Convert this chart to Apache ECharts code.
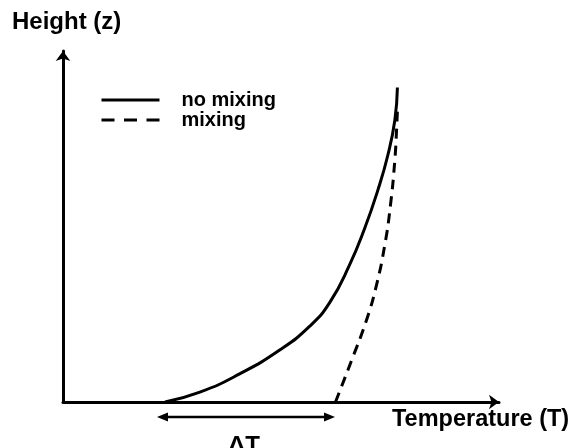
<!DOCTYPE html>
<html>
<head>
<meta charset="utf-8">
<script src="https://cdn.jsdelivr.net/npm/echarts@6/dist/echarts.min.js"></script>
<style>
html,body{margin:0;padding:0;background:#fff;}
#c{width:571px;height:448px;}
</style>
</head>
<body>
<div id="c"></div>
<script>
// Temperature (x, arbitrary units) vs Height (z, arbitrary units)
const seriesNames = ['no mixing', 'mixing'];
const noMixingT = [23.4, 31.4, 40.5, 49.7, 56.6, 61.2, 65.7, 69.2, 72.2, 74.5, 76.1, 76.7];
const noMixingZ = [0, 2.8, 8.0, 14.8, 21.6, 28.4, 39.0, 49.5, 60.3, 70.3, 80.2, 89.6];
const mixingT = [62.5, 66.2, 69.6, 71.9, 73.8, 75.1, 76.1, 76.5, 76.7];
const mixingZ = [0, 11.9, 23.3, 33.3, 44.7, 56.0, 68.8, 77.4, 83.1];
const xAxisName = 'Temperature (T)';
const yAxisName = 'Height (z)';
const deltaLabel = 'ΔT';

const pair = (xs, ys) => xs.map((x, i) => [x, ys[i]]);
const FONT = '"Liberation Sans", Arial, sans-serif';

const chart = echarts.init(document.getElementById('c'), null, {renderer: 'canvas'});
const axisCommon = {
  type: 'value', min: 0, max: 100,
  axisLabel: {show: false}, axisTick: {show: false}, splitLine: {show: false},
  axisLine: {show: true, symbol: ['none', 'arrow'], symbolSize: [11, 10],
             lineStyle: {color: '#000', width: 3}}
};
chart.setOption({
  animation: false,
  backgroundColor: '#fff',
  color: ['#000', '#000'],
  grid: {left: 63, top: 51, right: 72, bottom: 46},
  xAxis: Object.assign({}, axisCommon),
  yAxis: Object.assign({}, axisCommon),
  legend: {
    orient: 'vertical', left: 100, top: 90, padding: 0,
    itemWidth: 58, itemHeight: 10, itemGap: 0,
    data: [
      {name: seriesNames[0], lineStyle: {width: 3}},
      {name: seriesNames[1], lineStyle: {width: 3, type: [13, 9.5]}}
    ],
    itemStyle: {opacity: 0},
    textStyle: {fontFamily: FONT, fontWeight: 'bold', fontSize: 20, color: '#000',
                lineHeight: 17, padding: [0, 0, 0, 17]}
  },
  series: [
    {name: seriesNames[0], type: 'line', data: pair(noMixingT, noMixingZ),
     smooth: 0.5, symbol: 'none', showSymbol: false,
     itemStyle: {color: '#000'}, lineStyle: {color: '#000', width: 3}},
    {name: seriesNames[1], type: 'line', data: pair(mixingT, mixingZ),
     smooth: 0.5, symbol: 'none', showSymbol: false,
     itemStyle: {color: '#000'}, lineStyle: {color: '#000', width: 3, type: [10, 7]}}
  ],
  graphic: [
    {type: 'text', left: 12, top: 10,
     style: {text: yAxisName, font: 'bold 24px ' + FONT, fill: '#000'}},
    {type: 'text', left: 392, top: 408,
     style: {text: xAxisName, font: 'bold 23.5px ' + FONT, fill: '#000'}},
    {type: 'line', shape: {x1: 164, y1: 417, x2: 328, y2: 417},
     style: {stroke: '#000', lineWidth: 2.5}},
    {type: 'polygon', shape: {points: [[157, 417], [168, 412.5], [168, 421.5]]},
     style: {fill: '#000'}},
    {type: 'polygon', shape: {points: [[335, 417], [324, 412.5], [324, 421.5]]},
     style: {fill: '#000'}},
    {type: 'text', x: 244, y: 434,
     style: {text: deltaLabel, font: 'bold 24px ' + FONT, fill: '#000', align: 'center', verticalAlign: 'top'}}
  ]
});
</script>
</body>
</html>
